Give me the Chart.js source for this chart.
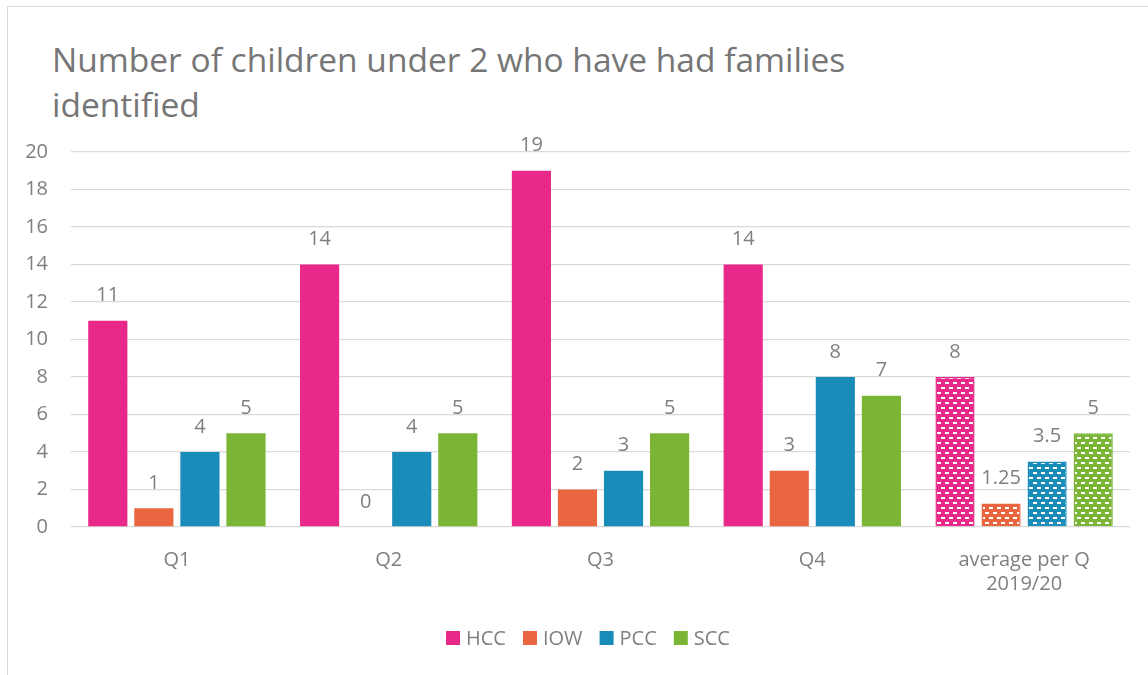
<!DOCTYPE html>
<html>
<head>
<meta charset="utf-8">
<script src="https://cdn.jsdelivr.net/npm/chart.js@4.4.1/dist/chart.umd.min.js"></script>
<style>
  html, body { margin: 0; padding: 0; background: #fff; width: 1148px; height: 675px; overflow: hidden; }
  #frame { position: absolute; left: 7px; top: 6px; width: 1200px; height: 720px; border: 1.5px solid #d9d9d9; box-sizing: border-box; }
  #title { position: absolute; left: 52px; top: 37px; font-family: "Open Sans", sans-serif; font-size: 33.5px; line-height: 45px; color: #767676; font-weight: 400; white-space: nowrap; }
  #wrap { position: absolute; left: 0; top: 0; width: 1148px; height: 675px; }
</style>
</head>
<body>
<div id="frame"></div>
<div id="title">Number of children under 2 who have had families<br>identified</div>
<div id="wrap"><canvas id="c" width="1148" height="675"></canvas></div>
<script>
const categories = ["Q1", "Q2", "Q3", "Q4", ["average per Q", "2019/20"]];
const seriesNames = ["HCC", "IOW", "PCC", "SCC"];
const hccValues = [11, 14, 19, 14, 8];
const iowValues = [1, 0, 2, 3, 1.25];
const pccValues = [4, 4, 3, 8, 3.5];
const sccValues = [5, 5, 5, 7, 5];
const yTicks = [0, 2, 4, 6, 8, 10, 12, 14, 16, 18, 20];
const seriesColors = ["#E8298A", "#E96641", "#1A8CB9", "#7AB535"];
const patternIndex = 4;

function makePattern(color) {
  const c = document.createElement('canvas');
  c.width = 8; c.height = 10;
  const g = c.getContext('2d');
  g.fillStyle = color; g.fillRect(0, 0, 8, 10);
  g.fillStyle = '#ffffff';
  g.fillRect(1, 2, 4, 2);
  g.fillRect(5, 7, 3, 2);
  g.fillRect(0, 7, 1, 2);
  return g.createPattern(c, 'repeat');
}

const allValues = [hccValues, iowValues, pccValues, sccValues];
const datasets = seriesNames.map((name, i) => {
  const pat = makePattern(seriesColors[i]);
  return {
    label: name,
    data: allValues[i],
    backgroundColor: (ctx) => (ctx.type === 'data' && ctx.dataIndex === patternIndex) ? pat : seriesColors[i],
    borderColor: seriesColors[i],
    borderWidth: (ctx) => (ctx.type === 'data' && ctx.dataIndex === patternIndex) ? 1.5 : 0,
    categoryPercentage: 0.87,
    barPercentage: 0.85
  };
});

const FONT = '"Open Sans", sans-serif';
const TXT = '#7f7f7f';

const valueLabels = {
  id: 'valueLabels',
  afterDatasetsDraw(chart) {
    const ctx = chart.ctx;
    ctx.save();
    ctx.font = '20px ' + FONT;
    ctx.fillStyle = TXT;
    ctx.textAlign = 'center';
    ctx.textBaseline = 'middle';
    chart.data.datasets.forEach((ds, di) => {
      const meta = chart.getDatasetMeta(di);
      meta.data.forEach((bar, j) => {
        ctx.fillText(String(ds.data[j]), bar.x, bar.y - 25);
      });
    });
    ctx.restore();
  }
};

const bottomLegend = {
  id: 'bottomLegend',
  afterDraw(chart) {
    const ctx = chart.ctx;
    ctx.save();
    ctx.font = '20px ' + FONT;
    ctx.textBaseline = 'middle';
    ctx.textAlign = 'left';
    const box = 14, gapBox = 6, gapItem = 17, cy = 638;
    const items = chart.data.datasets.map((ds, i) => ({ text: ds.label, color: seriesColors[i], w: ctx.measureText(ds.label).width }));
    const total = items.reduce((s, it) => s + box + gapBox + it.w, 0) + gapItem * (items.length - 1);
    let x = 588 - total / 2;
    items.forEach(it => {
      ctx.fillStyle = it.color;
      ctx.fillRect(x, cy - box / 2, box, box);
      ctx.fillStyle = TXT;
      ctx.fillText(it.text, x + box + gapBox, cy + 1);
      x += box + gapBox + it.w + gapItem;
    });
    ctx.restore();
  }
};

new Chart(document.getElementById('c'), {
  type: 'bar',
  data: { labels: categories, datasets },
  options: {
    responsive: false,
    animation: false,
    layout: { padding: { top: 152, left: 0, right: 18, bottom: 66 } },
    plugins: {
      title: { display: false },
      tooltip: { enabled: false },
      legend: { display: false }
    },
    scales: {
      x: {
        grid: { display: false },
        border: { display: false },
        ticks: { font: { family: FONT, size: 20 }, color: TXT, padding: 13, maxRotation: 0 },
        afterFit(scale) { scale.height = 82; }
      },
      y: {
        min: 0, max: 20,
        afterBuildTicks(scale) { scale.ticks = yTicks.map(v => ({ value: v })); },
        grid: { color: '#d9d9d9', lineWidth: 1.3, drawTicks: false },
        border: { display: false },
        ticks: { font: { family: FONT, size: 20 }, color: TXT, padding: 23 },
        afterFit(scale) { scale.width = 71; }
      }
    }
  },
  plugins: [valueLabels, bottomLegend]
});
</script>
</body>
</html>
